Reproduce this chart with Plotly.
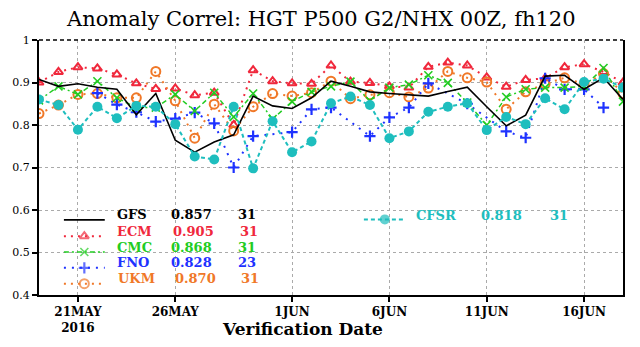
import plotly.graph_objects as go
import pandas as pd

# ---------------- data ----------------
dates = pd.date_range("2016-05-19", "2016-06-18", freq="D")

gfs = [0.907, 0.891, 0.897, 0.889, 0.884, 0.824, 0.874, 0.764, 0.736, 0.760, 0.777,
       0.868, 0.845, 0.839, 0.864, 0.903, 0.891, 0.878, 0.874, 0.871, 0.868,
       0.879, 0.889, 0.843, 0.798, 0.823, 0.915, 0.917, 0.884, 0.911, 0.860]
ecm = [0.900, 0.925, 0.936, 0.933, 0.919, 0.898, 0.885, 0.886, 0.870, 0.876, 0.800,
       0.929, 0.903, 0.898, 0.897, 0.940, 0.902, 0.899, 0.891, 0.888, 0.937,
       0.947, 0.940, 0.912, 0.890, 0.906, 0.910, 0.936, 0.943, 0.925, 0.900]
cmc = [0.858, 0.891, 0.872, 0.903, 0.864, 0.841, 0.841, 0.872, 0.833, 0.876, 0.819,
       0.874, 0.814, 0.855, 0.878, 0.891, 0.902, 0.857, 0.888, 0.895, 0.917,
       0.899, 0.853, 0.800, 0.866, 0.884, 0.888, 0.888, 0.891, 0.934, 0.855]
fno = [None, None, None, 0.875, 0.848, 0.830, 0.808, 0.815, 0.829, 0.804, 0.700,
       0.774, None, 0.783, 0.837, 0.841, None, 0.774, 0.818, 0.841, 0.898,
       None, 0.850, None, 0.785, 0.770, 0.910, 0.884, 0.884, 0.841, None]
ukm = [0.827, 0.847, 0.872, 0.874, 0.864, 0.864, 0.926, 0.857, 0.769, 0.849, 0.786,
       0.843, 0.874, 0.868, 0.876, 0.903, 0.862, 0.871, 0.876, 0.866, 0.887,
       0.926, 0.911, 0.901, 0.837, 0.878, 0.897, 0.911, 0.896, 0.921, 0.874]
cfsr = [0.860, 0.847, 0.789, 0.843, 0.816, 0.845, 0.843, 0.802, 0.726, 0.719, 0.843,
        0.698, 0.809, 0.736, 0.761, 0.851, 0.867, 0.847, 0.769, 0.785, 0.831,
        0.843, 0.851, 0.788, 0.819, 0.802, 0.863, 0.837, 0.901, 0.909, 0.888]

x_tickvals = ["2016-05-21", "2016-05-26", "2016-06-01", "2016-06-06", "2016-06-11", "2016-06-16"]
x_ticktext = ["21MAY<br>2016", "26MAY", "1JUN", "6JUN", "11JUN", "16JUN"]
y_tickvals = [0.4, 0.5, 0.6, 0.7, 0.8, 0.9, 1.0]
y_ticktext = ["0.4", "0.5", "0.6", "0.7", "0.8", "0.9", "1"]

model_names = ["GFS", "ECM", "CMC", "FNO", "UKM", "CFSR"]
model_means = ["0.857", "0.905", "0.868", "0.828", "0.870", "0.818"]
model_counts = ["31", "31", "31", "23", "31", "31"]

# ---------------- styles ----------------
FONT = "DejaVu Serif"
styles = {
    "GFS":  dict(color="#000000", dash="solid", width=1.6, symbol=None, msize=0, mlw=0),
    "ECM":  dict(color="#f0283c", dash="2px,5px", width=2, symbol="triangle-up-open", msize=8, mlw=2),
    "CMC":  dict(color="#22cc22", dash="5px,3px,2px,3px", width=1.5, symbol="x-thin-open", msize=8, mlw=1.6),
    "FNO":  dict(color="#1e32ff", dash="2px,6px", width=2, symbol="cross-thin-open", msize=8, mlw=2.2),
    "UKM":  dict(color="#f07828", dash="2px,5px", width=2, symbol="circle-open", msize=9, mlw=2),
    "CFSR": dict(color="#1ebebe", dash="4px,3px", width=2, symbol="circle", msize=10, mlw=0),
}
series = {"GFS": gfs, "ECM": ecm, "CMC": cmc, "FNO": fno, "UKM": ukm, "CFSR": cfsr}
draw_order = ["ECM", "UKM", "FNO", "CMC", "GFS", "CFSR"]

fig = go.Figure()
for name in draw_order:
    s = styles[name]
    mode = "lines" if s["symbol"] is None else "lines+markers"
    marker = None
    if s["symbol"] is not None:
        marker = dict(symbol=s["symbol"], size=s["msize"], color=s["color"],
                      line=dict(color=s["color"], width=s["mlw"]))
    fig.add_trace(go.Scatter(x=dates, y=series[name], mode=mode, name=name,
                             connectgaps=True,
                             line=dict(color=s["color"], dash=s["dash"], width=s["width"]),
                             marker=marker, showlegend=False, hoverinfo="skip"))

# ---------------- in-plot legend (pixel layout on an overlay axis) ----------------
L_LEFT, L_RIGHT, L_TOP, L_BOT = 37, 623, 40, 298
legend_rows = {  # name: (line x0, x1, line y, text y, label x, value x, count x)
    "GFS":  (62, 103, 222, 217, 113, 167, 235),
    "ECM":  (62, 103, 238.5, 233.5, 113, 169, 237),
    "CMC":  (62, 103, 254.5, 249.5, 113, 167, 235),
    "FNO":  (62, 103, 270.5, 265.5, 113, 167, 235),
    "UKM":  (62, 103, 286.5, 281.5, 114, 171, 238),
    "CFSR": (363, 405, 221.5, 217.5, 413, 479, 548),
}
annotations = []
for name, mean, cnt in zip(model_names, model_means, model_counts):
    s = styles[name]
    x0, x1, ly, ty, lx, vx, cx = legend_rows[name]
    xm = (x0 + x1) / 2
    msz = [0, s["msize"], 0] if s["symbol"] else None
    fig.add_trace(go.Scatter(
        x=[x0, xm, x1], y=[ly, ly, ly], xaxis="x2", yaxis="y2",
        mode="lines+markers" if s["symbol"] else "lines",
        line=dict(color=s["color"], dash=s["dash"], width=s["width"]),
        marker=dict(symbol=s["symbol"], size=msz, color=s["color"],
                    line=dict(color=s["color"], width=s["mlw"])) if s["symbol"] else None,
        showlegend=False, hoverinfo="skip", cliponaxis=False))
    for txt, tx in ((name, lx), (mean, vx), (cnt, cx)):
        annotations.append(dict(x=tx, y=ty, xref="x2", yref="y2", text="<b>%s</b>" % txt,
                                showarrow=False, xanchor="left", yanchor="middle",
                                font=dict(family=FONT, size=13, color=s["color"])))

# x-axis title (paper coordinates, below plot area)
annotations.append(dict(x=(301 - L_LEFT) / (L_RIGHT - L_LEFT), y=(L_BOT - 332) / (L_BOT - L_TOP),
                        xref="paper", yref="paper", text="<b>Verification Date</b>",
                        showarrow=False, xanchor="center", yanchor="middle",
                        font=dict(family=FONT, size=17, color="black")))

fig.update_layout(
    width=640, height=347,
    margin=dict(l=37, r=17, t=40, b=49),
    paper_bgcolor="white", plot_bgcolor="white",
    title=dict(text="Anomaly Correl: HGT P500 G2/NHX 00Z, fh120", x=0.502, xanchor="center",
               y=1 - 19 / 347, yanchor="middle",
               font=dict(family=FONT, size=21, color="black")),
    xaxis=dict(type="date", range=[dates[0], dates[-1]], tickvals=x_tickvals,
               ticktext=["<b>%s</b>" % t for t in x_ticktext],
               ticks="outside", ticklen=5, tickwidth=2, tickcolor="black",
               showline=True, linewidth=2, linecolor="black",
               showgrid=True, gridcolor="#aaaaaa", griddash="dot", gridwidth=1,
               zeroline=False, tickfont=dict(family=FONT, size=12, color="black")),
    yaxis=dict(range=[0.4, 1.0], tickvals=y_tickvals, ticktext=y_ticktext,
               ticks="outside", ticklen=5, tickwidth=2, tickcolor="black",
               showline=True, mirror=True, linewidth=2, linecolor="black",
               showgrid=True, gridcolor="#aaaaaa", griddash="dot", gridwidth=1,
               zeroline=False, tickfont=dict(family=FONT, size=11, color="black")),
    xaxis2=dict(overlaying="x", anchor="y2", range=[L_LEFT, L_RIGHT], visible=False, fixedrange=True),
    yaxis2=dict(overlaying="y", anchor="x2", range=[L_BOT, L_TOP], visible=False, fixedrange=True),
    annotations=annotations,
    shapes=[dict(type="line", xref="paper", yref="paper", x0=0, x1=1, y0=1, y1=1,
                 line=dict(color="black", width=1.5, dash="4px,3px"))],
)

fig.write_html("out.html")
